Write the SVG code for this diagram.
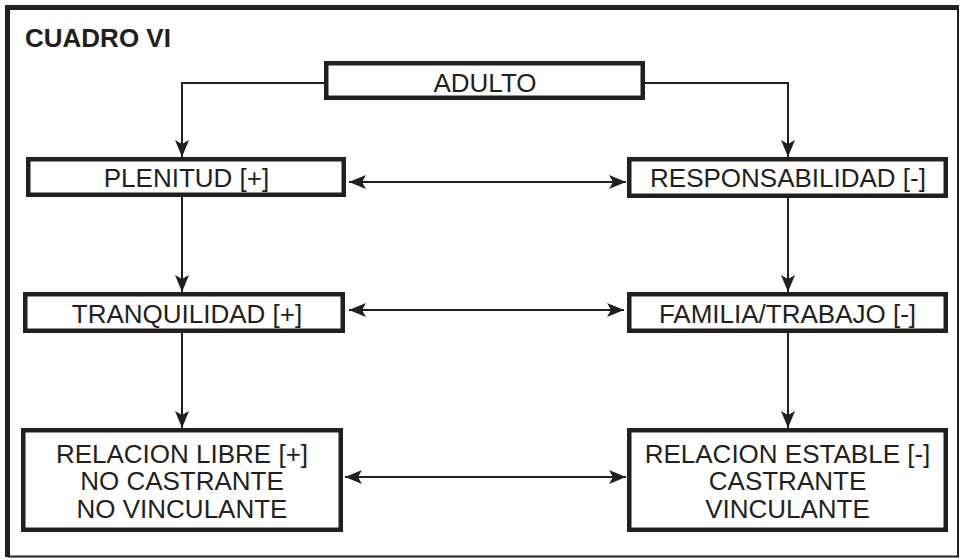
<svg xmlns="http://www.w3.org/2000/svg" width="961" height="559" viewBox="0 0 961 559">
<style>
.box{fill:#fff;stroke:#231f20;stroke-width:4.5}
.t{font-family:"Liberation Sans",Arial,sans-serif;font-size:26px;fill:#231f20;text-anchor:middle}
.title{font-family:"Liberation Sans",Arial,sans-serif;font-size:26px;font-weight:bold;fill:#231f20}
.c{fill:none;stroke:#231f20;stroke-width:2}
</style>
<defs>
<marker id="ah" markerUnits="userSpaceOnUse" markerWidth="20" markerHeight="16" viewBox="0 -8 18 16" refX="17" refY="0" orient="auto-start-reverse">
<path d="M17,0 L0,-7 L4,0 L0,7 Z" fill="#231f20"/>
</marker>
</defs>
<rect width="961" height="559" fill="#fff"/>
<g id="frame">
<path d="M7.5,557 V7.5 H959" fill="none" stroke="#231f20" stroke-width="5"/>
<path d="M958,7.5 V556.5 H7.5" fill="none" stroke="#231f20" stroke-width="2"/>
</g>
<text class="title" x="25" y="47">CUADRO VI</text>
<g id="connectors">
<path class="c" d="M324,83 H182 V157" marker-end="url(#ah)"/>
<path class="c" d="M645,83 H788 V157" marker-end="url(#ah)"/>
<path class="c" d="M182,197 V292" marker-end="url(#ah)"/>
<path class="c" d="M788,198 V292" marker-end="url(#ah)"/>
<path class="c" d="M182,333 V428" marker-end="url(#ah)"/>
<path class="c" d="M788,333 V428" marker-end="url(#ah)"/>
<path class="c" d="M349,182 H626" marker-start="url(#ah)" marker-end="url(#ah)"/>
<path class="c" d="M349,310 H624" marker-start="url(#ah)" marker-end="url(#ah)"/>
<path class="c" d="M345,477 H626" marker-start="url(#ah)" marker-end="url(#ah)"/>
</g>
<g id="adulto">
<rect class="box" x="326.25" y="63.25" width="316.5" height="34.5"/>
<text class="t" x="485" y="92">ADULTO</text>
</g>
<g id="plenitud">
<rect class="box" x="28.25" y="159.25" width="315.5" height="35.5"/>
<text class="t" x="186.5" y="187">PLENITUD [+]</text>
</g>
<g id="responsabilidad">
<rect class="box" x="629.25" y="159.25" width="316.5" height="36.5"/>
<text class="t" x="788" y="187">RESPONSABILIDAD [-]</text>
</g>
<g id="tranquilidad">
<rect class="box" x="25.25" y="294.25" width="317.5" height="36.5"/>
<text class="t" x="187" y="323">TRANQUILIDAD [+]</text>
</g>
<g id="familia">
<rect class="box" x="629.25" y="294.25" width="316.5" height="36.5"/>
<text class="t" x="787.5" y="323">FAMILIA/TRABAJO [-]</text>
</g>
<g id="relacion-libre">
<rect class="box" x="23.25" y="430.25" width="317.5" height="99.5"/>
<text class="t" x="182" y="463">RELACION LIBRE [+]</text>
<text class="t" x="182" y="490">NO CASTRANTE</text>
<text class="t" x="182" y="518">NO VINCULANTE</text>
</g>
<g id="relacion-estable">
<rect class="box" x="629.25" y="430.25" width="316.5" height="99.5"/>
<text class="t" x="787.5" y="463">RELACION ESTABLE [-]</text>
<text class="t" x="787.5" y="490">CASTRANTE</text>
<text class="t" x="787.5" y="518">VINCULANTE</text>
</g>
</svg>
